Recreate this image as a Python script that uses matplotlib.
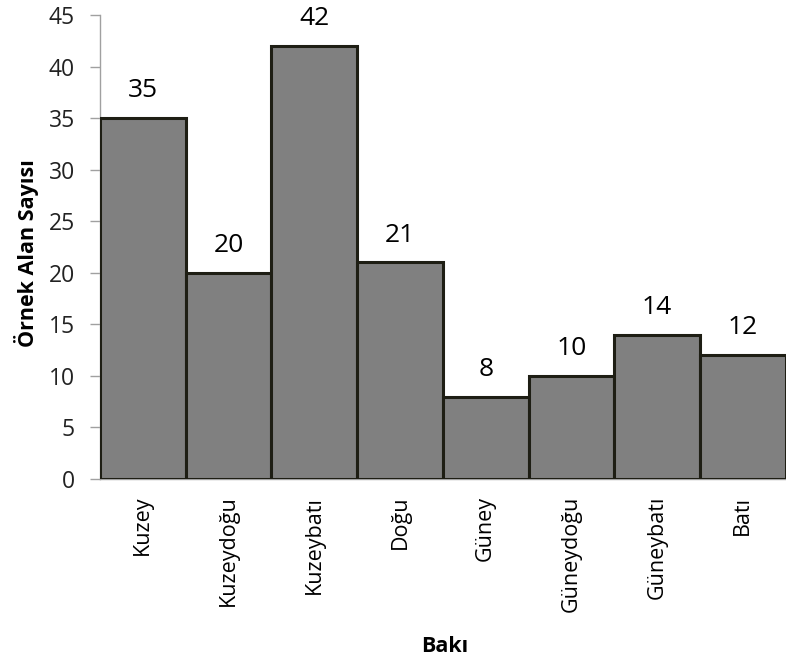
import matplotlib
matplotlib.use("Agg")
import matplotlib.pyplot as plt

categories = ["Kuzey", "Kuzeydoğu", "Kuzeybatı", "Doğu", "Güney", "Güneydoğu", "Güneybatı", "Batı"]
counts = [35, 20, 42, 21, 8, 10, 14, 12]
y_ticks = [0, 5, 10, 15, 20, 25, 30, 35, 40, 45]

plt.rcParams["font.family"] = ["Open Sans", "DejaVu Sans"]

W, H = 786, 664
fig = plt.figure(figsize=(W / 100, H / 100), dpi=100)
ax = fig.add_axes([100 / W, 185 / H, 690 / W, 464 / H])

x = list(range(len(categories)))
ax.bar(x, counts, width=1.0, color="#808080", edgecolor="#1e1e14", linewidth=2.2, zorder=3)

for xi, v in zip(x, counts):
    ax.annotate(str(v), (xi, v), xytext=(0, 15), textcoords="offset points",
                ha="center", va="baseline", fontsize=19, color="#000000")

ax.set_xlim(-0.5, len(categories) - 0.5 + 0.05)
ax.set_ylim(0, 45)
ax.set_yticks(y_ticks)
ax.set_yticklabels([str(t) for t in y_ticks], fontsize=16.5, color="#222222")
ax.set_xticks(x)
ax.set_xticklabels(categories, rotation=90, fontsize=15.5, color="#000000")
ax.tick_params(axis="y", direction="out", length=7, width=1, color="#a0a0a0", pad=11)
ax.tick_params(axis="x", length=0, pad=12)

for side in ["top", "right"]:
    ax.spines[side].set_visible(False)
for side in ["left", "bottom"]:
    ax.spines[side].set_color("#a0a0a0")
    ax.spines[side].set_linewidth(1)

fig.text(27 / W, 1 - 253 / H, "Örnek Alan Sayısı", rotation=90, ha="center", va="center",
         fontsize=15.5, fontweight="bold")
fig.text(445 / W, 1 - 647 / H, "Bakı", ha="center", va="center",
         fontsize=15.5, fontweight="bold")

fig.savefig("out.png", dpi=100)
